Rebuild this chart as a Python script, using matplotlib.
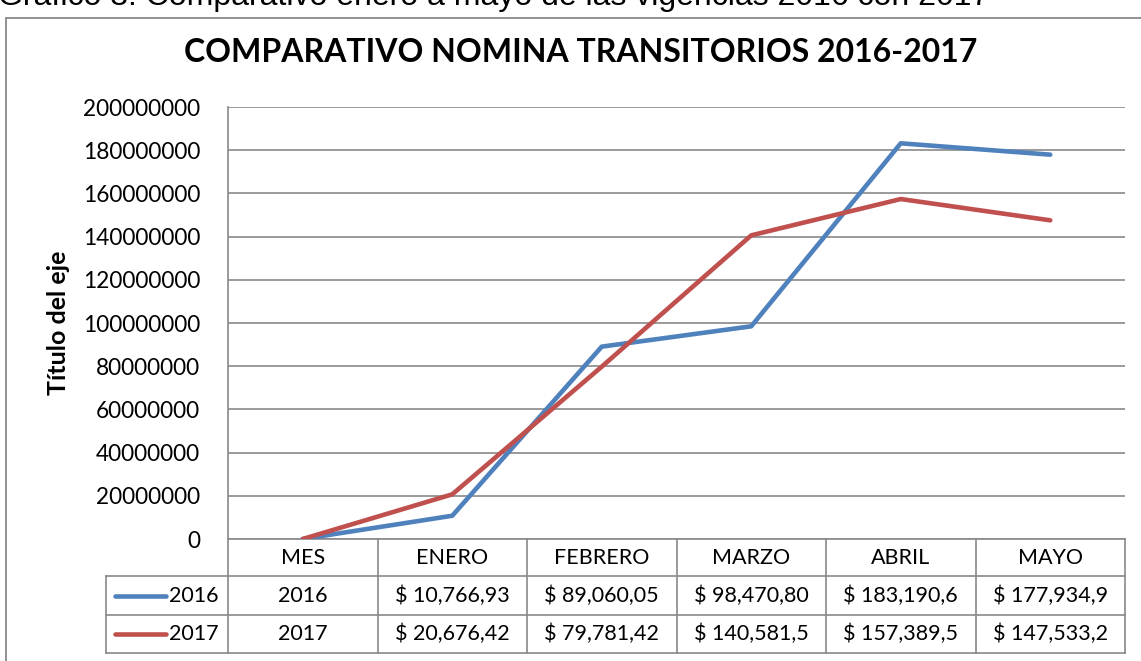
import matplotlib.pyplot as plt
import matplotlib.transforms as mtransforms
from matplotlib.lines import Line2D
from matplotlib.patches import Rectangle
import numpy as np

plt.rcParams['font.family'] = ['Lato', 'DejaVu Sans']

months = ['MES', 'ENERO', 'FEBRERO', 'MARZO', 'ABRIL', 'MAYO']
series_names = ['2016', '2017']
vals_2016 = [0, 10766930, 89060050, 98470800, 183190600, 177934900]
vals_2017 = [0, 20676420, 79781420, 140581500, 157389500, 147533200]
table_2016 = ['2016', '$ 10,766,93', '$ 89,060,05', '$ 98,470,80', '$ 183,190,6', '$ 177,934,9']
table_2017 = ['2017', '$ 20,676,42', '$ 79,781,42', '$ 140,581,5', '$ 157,389,5', '$ 147,533,2']
yticks = np.arange(0, 200000001, 20000000)

BLUE = '#4F81BD'
RED = '#C0504D'
GRID = '#898989'

W, H = 1141, 661
fig = plt.figure(figsize=(W / 100, H / 100), dpi=100)
fig.patch.set_facecolor('white')

# caption of the page, cut by the top edge like in the source image
fig.text(-2 / W, 1 - 5 / H,
         'Gráfico 3. Comparativo enero a mayo de las vigencias 2016 con 2017',
         family=['Liberation Sans'], fontsize=23, va='baseline', ha='left')

# outer chart frame
fig.add_artist(Rectangle((6 / W, -0.05), 1.2, 1 - 18 / H + 0.05,
                         transform=fig.transFigure, fill=False,
                         edgecolor=GRID, linewidth=1.3))

ax = fig.add_axes([228 / W, 1 - 539 / H, (1125 - 228) / W, (539 - 107) / H])
x = np.arange(len(months))
ax.plot(x, vals_2016, color=BLUE, linewidth=3.3, solid_capstyle='round',
        solid_joinstyle='round', zorder=4)
ax.plot(x, vals_2017, color=RED, linewidth=3.3, solid_capstyle='round',
        solid_joinstyle='round', zorder=5)

ax.set_xlim(-0.5, len(months) - 0.5)
ax.set_ylim(0, 200000000)
ax.set_yticks(yticks)
ax.set_yticklabels([f'{v:d}' for v in yticks], fontsize=16.3)
ax.tick_params(axis='y', length=0, pad=20)
ax.set_xticks([])
ax.yaxis.grid(True, color=GRID, linewidth=1.2)
ax.set_axisbelow(True)
for s in ['top', 'right', 'bottom']:
    ax.spines[s].set_visible(False)
ax.spines['left'].set_color(GRID)
ax.spines['left'].set_linewidth(1.2)

ax.set_ylabel('Título del eje', fontsize=18, fontweight='bold')
ax.yaxis.set_label_coords(-158 / 897, 0.5)

fig.text(581 / W, 1 - 52 / H, 'COMPARATIVO NOMINA TRANSITORIOS 2016-2017',
         ha='center', va='center', fontsize=23, fontweight='bold')

# data table under the axis
axh = 539 - 107
r0, r1, r2, r3 = 0, -37 / axh, -76 / axh, -114 / axh
bt = mtransforms.blended_transform_factory(ax.transData, ax.transAxes)
px = 1 / 149.5
leg_left = -0.5 - (228 - 106) * px

def hline(x0, x1, y):
    ax.add_line(Line2D([x0, x1], [y, y], transform=bt, color=GRID,
                       linewidth=1.2, clip_on=False))

def vline(xv, y0, y1):
    ax.add_line(Line2D([xv, xv], [y0, y1], transform=bt, color=GRID,
                       linewidth=1.2, clip_on=False))

right = len(months) - 0.5
hline(leg_left, right, r1)
hline(leg_left, right, r2)
hline(leg_left, right, r3)
hline(-0.5, right, r0)
vline(leg_left, r1, r3)
for b in np.arange(-0.5, len(months), 1.0):
    vline(b, r0, r3)

for i, m in enumerate(months):
    ax.text(i, (r0 + r1) / 2, m, transform=bt, ha='center', va='center',
            fontsize=15.5)
    ax.text(i, (r1 + r2) / 2, table_2016[i], transform=bt, ha='center',
            va='center', fontsize=15.5)
    ax.text(i, (r2 + r3) / 2, table_2017[i], transform=bt, ha='center',
            va='center', fontsize=15.5)

for (y0, y1), name, col in [((r1, r2), series_names[0], BLUE),
                            ((r2, r3), series_names[1], RED)]:
    yc = (y0 + y1) / 2
    ax.add_line(Line2D([leg_left + 9 * px, leg_left + 60 * px], [yc, yc],
                       transform=bt, color=col, linewidth=3.3,
                       solid_capstyle='round', clip_on=False))
    ax.text(-0.5 - 9 * px, yc, name, transform=bt, ha='right',
            va='center', fontsize=15.5)

fig.savefig('out.png', dpi=100)
